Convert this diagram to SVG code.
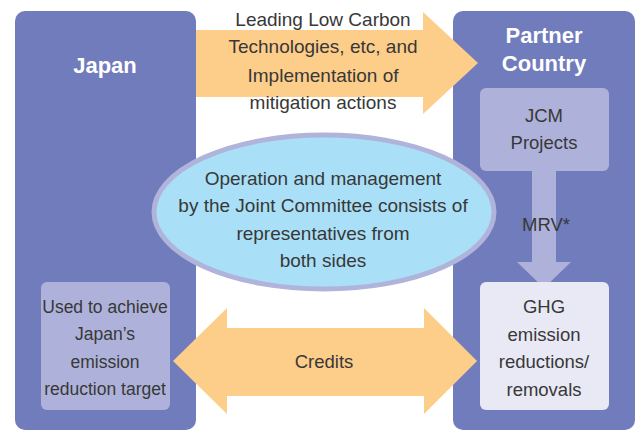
<svg xmlns="http://www.w3.org/2000/svg" width="642" height="432" viewBox="0 0 642 432">
<style>
.big{fill:#717cbc}
.light{fill:#aeb2da}
.arrow{fill:#fdcd8a}
.t{font-family:"Liberation Sans",Arial,sans-serif;font-size:18.5px;fill:#383838;text-anchor:middle}
.l{font-size:19px}
.s{font-size:17.5px}
.h{font-family:"Liberation Sans",Arial,sans-serif;font-size:22px;font-weight:bold;fill:#ffffff;text-anchor:middle}
</style>
<rect width="642" height="432" fill="#ffffff"/>
<g id="japan">
<rect class="big" x="15" y="11" width="181" height="419" rx="10"/>
<text class="h" x="105" y="73">Japan</text>
</g>
<g id="partner">
<rect class="big" x="453" y="11" width="182" height="419" rx="10"/>
<text class="h" x="544" y="43">Partner</text>
<text class="h" x="544" y="71">Country</text>
</g>
<g id="connectors">
<polygon id="tech-arrow" class="arrow" points="196,30 423,30 423,12 478,63 423,114 423,97 196,97"/>
<polygon id="credits-arrow" class="arrow" points="173,361 227,308 227,328 424,328 424,308 477,361 424,414 424,396 227,396 227,414"/>
<polygon id="mrv-arrow" class="light" points="532,171 556,171 556,262 571,262 544,288 517,262 532,262"/>
</g>
<g id="tech-label">
<text class="t l" x="323" y="26">Leading Low Carbon</text>
<text class="t l" x="323" y="53">Technologies, etc, and</text>
<text class="t l" x="323" y="82">Implementation of</text>
<text class="t l" x="323" y="109">mitigation actions</text>
</g>
<g id="jcm">
<rect class="light" x="480" y="88" width="129" height="83" rx="6"/>
<text class="t" x="544" y="122">JCM</text>
<text class="t" x="544" y="149">Projects</text>
</g>
<text class="t" x="546" y="231">MRV*</text>
<g id="committee">
<ellipse cx="324" cy="212" rx="170" ry="77" fill="#a9e0f7" stroke="#b0b4db" stroke-width="5"/>
<text class="t l" x="323" y="185">Operation and management</text>
<text class="t l" x="323" y="212">by the Joint Committee consists of</text>
<text class="t l" x="323" y="240">representatives from</text>
<text class="t l" x="323" y="267">both sides</text>
</g>
<g id="used">
<rect class="light" x="41" y="282" width="129" height="128" rx="6"/>
<text class="t s" x="105" y="313">Used to achieve</text>
<text class="t s" x="105" y="340">Japan’s</text>
<text class="t s" x="105" y="368">emission</text>
<text class="t s" x="105" y="395">reduction target</text>
</g>
<g id="ghg">
<rect x="480" y="282" width="129" height="128" rx="6" fill="#e8e9f5"/>
<text class="t" x="544" y="313">GHG</text>
<text class="t" x="544" y="341">emission</text>
<text class="t" x="544" y="368">reductions/</text>
<text class="t" x="544" y="396">removals</text>
</g>
<text class="t" x="324" y="368">Credits</text>
</svg>
